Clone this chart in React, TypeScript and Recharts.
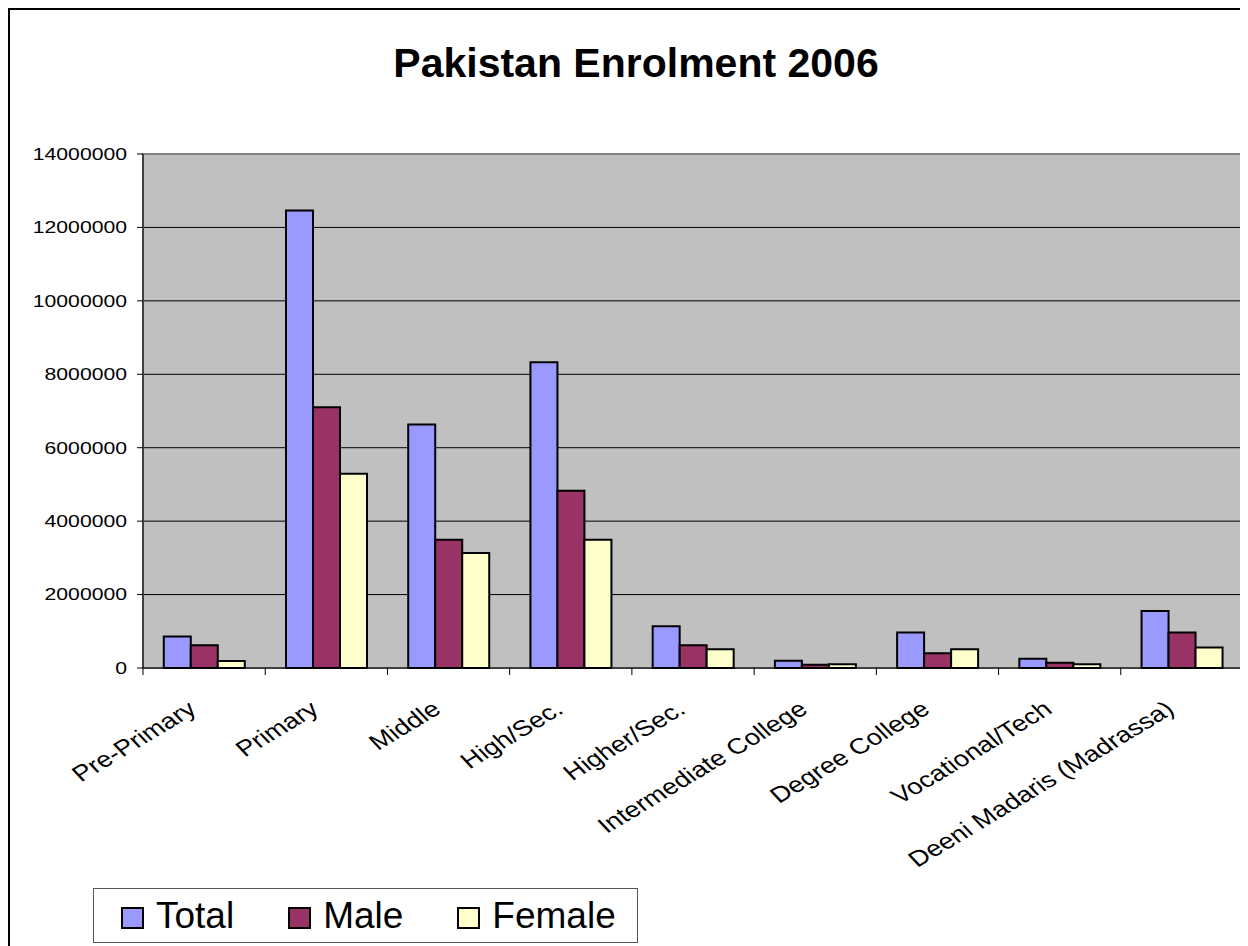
import React from 'react';
import { BarChart, Bar, XAxis, YAxis, CartesianGrid, Legend, ReferenceArea } from 'recharts';

const categories = [
  'Pre-Primary',
  'Primary',
  'Middle',
  'High/Sec.',
  'Higher/Sec.',
  'Intermediate College',
  'Degree College',
  'Vocational/Tech',
  'Deeni Madaris (Madrassa)',
];
const totalValues = [860000, 12460000, 6630000, 8330000, 1140000, 200000, 970000, 250000, 1550000];
const maleValues = [620000, 7100000, 3490000, 4830000, 620000, 90000, 400000, 145000, 970000];
const femaleValues = [190000, 5290000, 3130000, 3490000, 510000, 100000, 510000, 100000, 560000];
const yTicks = [0, 2000000, 4000000, 6000000, 8000000, 10000000, 12000000, 14000000];

const SERIES = [
  { key: 'total', name: 'Total', color: '#9999FF' },
  { key: 'male', name: 'Male', color: '#993366' },
  { key: 'female', name: 'Female', color: '#FFFFCC' },
];

const data = categories.map((name, i) => ({
  name,
  total: totalValues[i],
  male: maleValues[i],
  female: femaleValues[i],
}));

const FONT = '"Liberation Sans", Arial, sans-serif';

const YTick = (props: any) => {
  const { x, y, payload } = props;
  return (
    <g transform={`translate(${x},${y})`}>
      <text textAnchor="end" dy={5.8} transform="scale(1.3,1)" fontSize={16.3} fontFamily={FONT} fill="#000">
        {payload.value}
      </text>
    </g>
  );
};

const XTick = (props: any) => {
  const { x, y, payload, index } = props;
  const half = payload && payload.offset ? payload.offset : 61;
  const axisY = y - 7;
  const last = index === categories.length - 1;
  return (
    <g>
      <line x1={x - half} x2={x - half} y1={axisY} y2={axisY + 7} stroke="#000" />
      {last && <line x1={x + half} x2={x + half} y1={axisY} y2={axisY + 7} stroke="#000" />}
      <g transform={`translate(${x - 6},${axisY + 44}) scale(1.25,1) rotate(-37)`}>
        <text textAnchor="end" fontSize={22} fontFamily={FONT} fill="#000">
          {payload.value}
        </text>
      </g>
    </g>
  );
};

const LegendBox = () => (
  <div
    style={{
      boxSizing: 'border-box',
      width: 545,
      height: 55,
      border: '1.5px solid #555',
      background: '#fff',
      display: 'flex',
      alignItems: 'center',
      paddingLeft: 27,
      gap: 54,
      fontFamily: FONT,
      fontSize: 37,
      color: '#000',
    }}
  >
    {SERIES.map((s) => (
      <div key={s.key} style={{ display: 'flex', alignItems: 'center', gap: 12 }}>
        <span
          style={{
            boxSizing: 'border-box',
            display: 'inline-block',
            width: 23,
            height: 22,
            background: s.color,
            border: '2px solid #000',
            marginTop: 4,
          }}
        />
        <span style={{ lineHeight: '40px' }}>{s.name}</span>
      </div>
    ))}
  </div>
);

export default function App() {
  return (
    <div style={{ position: 'relative', width: 1240, height: 938, overflow: 'hidden', background: '#fff' }}>
      <style>{`html,body{overflow:hidden}`}</style>
      <div
        style={{
          position: 'absolute',
          left: 0,
          top: 0,
          width: 1300,
          height: 1000,
          border: '2px solid #000',
          pointerEvents: 'none',
        }}
      />
      <div
        style={{
          position: 'absolute',
          left: 628,
          top: 35,
          transform: 'translateX(-50%)',
          fontFamily: FONT,
          fontWeight: 'bold',
          fontSize: 41,
          lineHeight: '41px',
          whiteSpace: 'nowrap',
          color: '#000',
        }}
      >
        Pakistan Enrolment 2006
      </div>
      <BarChart
        width={1240}
        height={938}
        data={data}
        margin={{ top: 146, right: 5, left: 0, bottom: 78 }}
        barCategoryGap="17%"
        barGap={0}
      >
        <CartesianGrid vertical={false} stroke="#000" fill="#C0C0C0" fillOpacity={1} />
        <ReferenceArea y1={0} y2={14000000} fill="none" stroke="#808080" strokeWidth={2} ifOverflow="visible" />
        <XAxis
          dataKey="name"
          height={200}
          interval={0}
          tickLine={false}
          tickSize={7}
          tickMargin={0}
          axisLine={{ stroke: '#000' }}
          tick={<XTick />}
        />
        <YAxis
          width={135}
          domain={[0, 14000000]}
          ticks={yTicks}
          interval={0}
          tickSize={6}
          tickMargin={10}
          axisLine={{ stroke: '#000' }}
          tickLine={{ stroke: '#000' }}
          tick={<YTick />}
        />
        {SERIES.map((s) => (
          <Bar
            key={s.key}
            dataKey={s.key}
            name={s.name}
            fill={s.color}
            stroke="#000"
            strokeWidth={2}
            isAnimationActive={false}
          />
        ))}
        <Legend
          layout="vertical"
          align="center"
          verticalAlign="middle"
          wrapperStyle={{ position: 'absolute', left: 85, top: 880, width: 545, height: 55 }}
          content={() => <LegendBox />}
        />
      </BarChart>
    </div>
  );
}
